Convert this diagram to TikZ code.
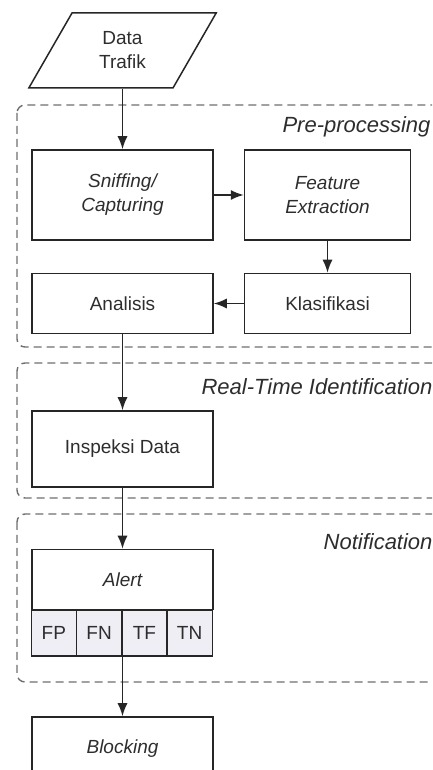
\documentclass[tikz,border=0pt]{standalone}
\usepackage{fontspec}
\setmainfont{Liberation Sans}
\definecolor{mygray}{RGB}{110, 110, 110}
\definecolor{mytext}{RGB}{45, 45, 45}
\definecolor{mycell}{RGB}{239, 238, 245}
\usetikzlibrary{arrows.meta, positioning, shapes.geometric}

\tikzset{
	box/.style = {rectangle, draw = black!85, line width = 1.5pt, align = center, text = mytext, font = \fontsize{19}{24}\selectfont},
	cell/.style = {box, fill = mycell, minimum width = 45.25pt, minimum height = 46pt, outer sep = 0pt, inner sep = 0pt},
	group/.style = {draw = mygray, line width = 1.4pt, dash pattern = on 8pt off 5pt, rounded corners = 8pt},
	grouplabel/.style = {anchor = east, text = mytext, font = \fontsize{22}{26}\selectfont\itshape},
	flow/.style = {-{Latex[length = 13pt, width = 10pt]}, line width = 1.5pt, draw = black!85}
}

\begin{document}
\begin{tikzpicture}[x = 1pt, y = 1pt]
	\useasboundingbox (0, 0) rectangle (432, 770);
	\clip (0, 0) rectangle (432, 770);

	% dashed stages
	\draw[group] (17, 665) rectangle (450, 423);
	\draw[group] (17, 407) rectangle (450, 272);
	\draw[group] (17, 256) rectangle (450, 88);
	\node[grouplabel] (pre) at (434, 643) {Pre-processing};
	\node[grouplabel] (rti) at (436, 383) {Real-Time Identification};
	\node[grouplabel] (notif) at (436, 228) {Notification};

	\node[box, trapezium, trapezium left angle = 62.5, trapezium right angle = 117.5, trapezium stretches = true, minimum width = 189pt, minimum height = 75pt] (data) at (122.5, 719.5) {Data\\Trafik};
	\node[box, minimum width = 181pt, minimum height = 90pt] (sniff) at (122.5, 575) {\itshape Sniffing/\\\itshape Capturing};
	\node[box, minimum width = 166pt, minimum height = 90pt, right = 30pt of sniff] (feat) {\itshape Feature\\\itshape Extraction};
	\node[box, minimum width = 166pt, minimum height = 60pt, below = 32pt of feat] (klas) {Klasifikasi};
	\node[box, minimum width = 181pt, minimum height = 60pt, below = 32pt of sniff] (anal) {Analisis};
	\node[box, minimum width = 181pt, minimum height = 76pt, below = 76pt of anal] (insp) {Inspeksi Data};
	\node[box, minimum width = 181pt, minimum height = 60pt, below = 61pt of insp] (alert) {\itshape Alert};
	\node[cell, anchor = north west] (fp) at (alert.south west) {FP};
	\node[cell, right = 0pt of fp] (fn) {FN};
	\node[cell, right = 0pt of fn] (tf) {TF};
	\node[cell, right = 0pt of tf] (tn) {TN};
	\node[box, minimum width = 181pt, minimum height = 64pt, below = 106pt of alert] (block) {\itshape Blocking};

	\draw[flow] (sniff.north |- data.south) -- (sniff.north);
	\draw[flow] (sniff.east) -- (feat.west);
	\draw[flow] (feat.south) -- (klas.north);
	\draw[flow] (klas.west) -- (anal.east);
	\draw[flow] (anal.south) -- (insp.north);
	\draw[flow] (insp.south) -- (alert.north);
	\draw[flow] (alert.south) -- (block.north);
\end{tikzpicture}
\end{document}
